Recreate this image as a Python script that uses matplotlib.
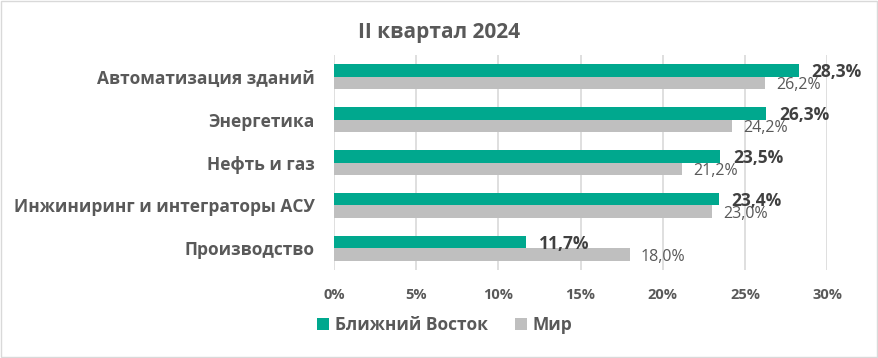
import numpy as np
import matplotlib.pyplot as plt
from matplotlib.patches import Rectangle

plt.rcParams['font.family'] = ['Open Sans', 'DejaVu Sans']

categories = ["Автоматизация зданий", "Энергетика", "Нефть и газ",
              "Инжиниринг и интеграторы АСУ", "Производство"]
middle_east = [28.3, 26.3, 23.5, 23.4, 11.7]
world = [26.2, 24.2, 21.2, 23.0, 18.0]
series_names = ["Ближний Восток", "Мир"]
ticks = [0, 5, 10, 15, 20, 25, 30]

green = "#00A88E"
grey = "#BFBFBF"
txt = "#595959"

fig = plt.figure(figsize=(8.79, 3.58), dpi=100)
fig.patches.append(Rectangle((0.001, 0.002), 0.997, 0.995, transform=fig.transFigure,
                             fill=False, edgecolor="#D9D9D9", lw=1))
ax = fig.add_axes([0.380, 0.246, 0.561, 0.600])

y = np.arange(len(categories))
h = 0.29
ax.barh(y - h / 2, middle_east, height=h, color=green, label=series_names[0], zorder=3)
ax.barh(y + h / 2, world, height=h, color=grey, label=series_names[1], zorder=3)

for i in range(len(categories)):
    ax.annotate(f"{middle_east[i]:.1f}%".replace(".", ","), (middle_east[i], y[i] - h / 2),
                xytext=(9, -1), textcoords="offset points", va="center", ha="left",
                fontsize=12.5, fontweight="bold", color="#404040", zorder=4)
    ax.annotate(f"{world[i]:.1f}%".replace(".", ","), (world[i], y[i] + h / 2),
                xytext=(8, -1.5), textcoords="offset points", va="center", ha="left",
                fontsize=11.5, color=txt, zorder=4)

ax.set_xlim(0, 30)
ax.set_ylim(len(categories) - 0.5, -0.5)
ax.set_xticks(ticks)
ax.set_xticklabels([f"{t}%" for t in ticks], fontsize=10.5, fontweight="bold", color=txt)
ax.set_yticks(y)
ax.set_yticklabels(categories, fontsize=12.5, fontweight="bold", color=txt)
ax.tick_params(length=0, pad=14)
ax.tick_params(axis="x", pad=13)
ax.grid(axis="x", color="#D9D9D9", lw=1.2, zorder=0)
for s in ax.spines.values():
    s.set_visible(False)

fig.text(0.5, 0.91, "II квартал 2024", ha="center", va="center", fontsize=15,
         fontweight="bold", color=txt)

fig.legend(loc="center", bbox_to_anchor=(0.506, 0.092), ncol=2, frameon=False,
           handlelength=0.7, handleheight=0.7, handletextpad=0.3,
           columnspacing=1.6, labelcolor=txt, prop={"weight": "bold", "size": 12.5})

fig.savefig("out.png", dpi=100)
